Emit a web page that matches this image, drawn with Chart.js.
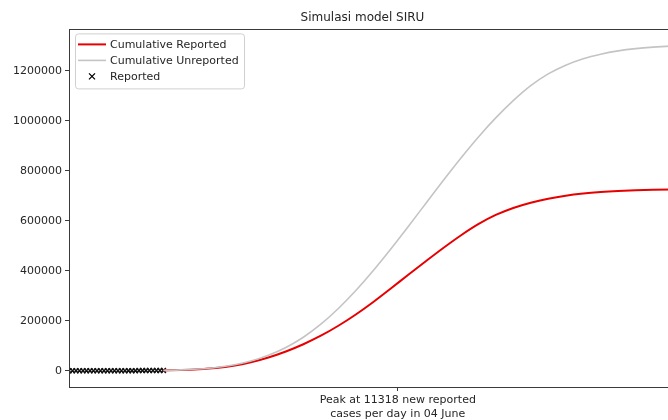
<!DOCTYPE html>
<html>
<head>
<meta charset="utf-8">
<title>Simulasi model SIRU</title>
<script src="https://cdn.jsdelivr.net/npm/chart.js@4.4.1/dist/chart.umd.min.js"></script>
<style>
  html, body { margin: 0; padding: 0; background: #fff; overflow: hidden; }
  #chart { display: block; }
</style>
</head>
<body>
<canvas id="chart" width="730" height="420"></canvas>
<script>
// reported cumulative cases, one value per day starting at day 0
const reportedDays = [0, 1, 2, 3, 4, 5, 6, 7, 8, 9, 10, 11, 12, 13, 14, 15, 16, 17, 18, 19, 20, 21, 22, 23, 24, 25, 26, 27];
const reportedCases = [2, 2, 2, 2, 4, 4, 6, 19, 27, 34, 34, 69, 96, 117, 134, 172, 227, 309, 369, 450, 514, 579, 686, 790, 893, 1046, 1155, 1285];

// SIRU model output, sampled every 5 days
const modelDays = [27, 32, 37, 42, 47, 52, 57, 62, 67, 72, 77, 82, 87, 92, 97, 102, 107, 112, 117, 122, 127, 132, 137, 142, 147, 152, 157, 162, 167, 172, 177, 182, 187];
const cumulativeReported = [1300, 3000, 6000, 11000, 20000, 34000, 53000, 77000, 106000, 140000, 180000, 225000, 275000, 329000, 384000, 438000, 491000, 541000, 586000, 623000, 651000, 672000, 688000, 700000, 708500, 714500, 718800, 721800, 723800, 725000, 725700, 726100, 726300];
const cumulativeUnreported = [1500, 3500, 7000, 13000, 23000, 39000, 62000, 93000, 134000, 186000, 249000, 321000, 401000, 487000, 577000, 669000, 761000, 850000, 934000, 1011000, 1080000, 1140000, 1187000, 1222000, 1248000, 1266000, 1279000, 1288000, 1294000, 1298000, 1300500, 1302000, 1303000];

const yTicks = [0, 200000, 400000, 600000, 800000, 1000000, 1200000];
const peakDay = 94;
const peakLabel = ["Peak at 11318 new reported", "cases per day in 04 June"];

const FONT = "'DejaVu Sans', sans-serif";
const TEXT = "#262626";
const AXIS = "#3a3a3a";

function pairs(xs, ys) {
  return xs.map((x, i) => ({ x, y: ys[i] }));
}

// box around the plot area, matplotlib style
const frame = {
  id: "frame",
  afterDatasetsDraw(chart) {
    const { ctx, chartArea: a } = chart;
    ctx.save();
    ctx.strokeStyle = AXIS;
    ctx.lineWidth = 1;
    ctx.strokeRect(Math.round(a.left) + 0.5, Math.round(a.top) + 0.5,
      Math.round(a.right - a.left), Math.round(a.bottom - a.top));
    ctx.restore();
  }
};

// legend drawn inside the upper left corner of the axes
const legendBox = {
  id: "legendBox",
  afterDraw(chart) {
    const { ctx, chartArea: a } = chart;
    const x = a.left + 6, y = a.top + 4, w = 169, h = 55;
    ctx.save();
    ctx.beginPath();
    ctx.roundRect(x + 0.5, y + 0.5, w, h, 3);
    ctx.fillStyle = "rgba(255,255,255,0.85)";
    ctx.fill();
    ctx.strokeStyle = "#d0d0d0";
    ctx.lineWidth = 1;
    ctx.stroke();

    ctx.font = "11px " + FONT;
    ctx.textBaseline = "middle";
    ctx.fillStyle = TEXT;
    chart.data.datasets.forEach((ds, i) => {
      const cy = y + 11 + i * 16;
      if (ds.showLine === false) {
        ctx.strokeStyle = "#000";
        ctx.lineWidth = 1.3;
        ctx.beginPath();
        ctx.moveTo(x + 14, cy - 3); ctx.lineTo(x + 20, cy + 3);
        ctx.moveTo(x + 20, cy - 3); ctx.lineTo(x + 14, cy + 3);
        ctx.stroke();
      } else {
        ctx.strokeStyle = ds.borderColor;
        ctx.lineWidth = ds.borderWidth;
        ctx.beginPath();
        ctx.moveTo(x + 3, cy);
        ctx.lineTo(x + 31, cy);
        ctx.stroke();
      }
      ctx.fillText(ds.label, x + 35, cy + 1);
    });
    ctx.restore();
  }
};

new Chart(document.getElementById("chart"), {
  type: "line",
  data: {
    datasets: [
      {
        label: "Cumulative Reported",
        data: pairs(modelDays, cumulativeReported),
        borderColor: "#e80000",
        borderWidth: 2,
        pointRadius: 0,
        cubicInterpolationMode: "monotone",
        order: 1
      },
      {
        label: "Cumulative Unreported",
        data: pairs(modelDays, cumulativeUnreported),
        borderColor: "#c4c4c4",
        borderWidth: 1.6,
        pointRadius: 0,
        cubicInterpolationMode: "monotone",
        order: 0
      },
      {
        label: "Reported",
        data: pairs(reportedDays, reportedCases),
        showLine: false,
        pointStyle: "crossRot",
        pointRadius: 3.5,
        pointBorderColor: "#111",
        pointBorderWidth: 1.5,
        order: 2
      }
    ]
  },
  options: {
    responsive: false,
    animation: false,
    devicePixelRatio: 1,
    layout: { padding: { top: 0, right: 5, bottom: 0, left: 0 } },
    plugins: {
      legend: { display: false },
      tooltip: { enabled: false },
      title: {
        display: true,
        text: "Simulasi model SIRU",
        color: TEXT,
        font: { family: FONT, size: 12, weight: "normal" },
        padding: { top: 11, bottom: 4 }
      }
    },
    scales: {
      x: {
        type: "linear",
        min: 0,
        max: 187.4,
        border: { display: false },
        grid: { drawOnChartArea: false, tickLength: 4, color: AXIS },
        afterBuildTicks: (scale) => { scale.ticks = [{ value: peakDay }]; },
        afterFit: (scale) => { scale.height = 33; },
        ticks: {
          autoSkip: false,
          maxRotation: 0,
          padding: 3,
          color: TEXT,
          font: { family: FONT, size: 11 },
          callback: () => peakLabel
        }
      },
      y: {
        min: -65000,
        max: 1365000,
        border: { display: false },
        grid: { drawOnChartArea: false, tickLength: 4, color: AXIS },
        afterBuildTicks: (scale) => { scale.ticks = yTicks.map(v => ({ value: v })); },
        afterFit: (scale) => { scale.width = 69; },
        ticks: {
          padding: 3,
          color: TEXT,
          font: { family: FONT, size: 11 },
          callback: (v) => String(v)
        }
      }
    }
  },
  plugins: [frame, legendBox]
});
</script>
</body>
</html>
